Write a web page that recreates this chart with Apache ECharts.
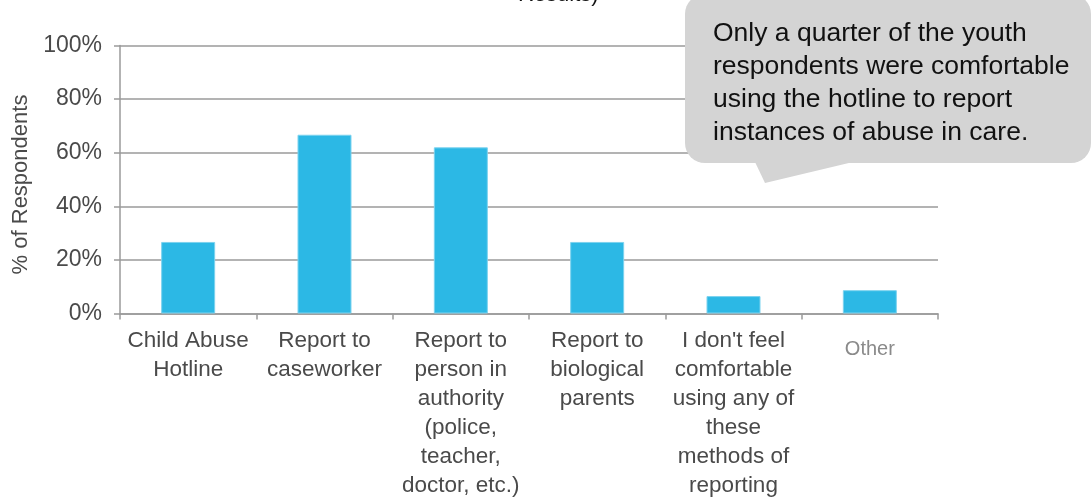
<!DOCTYPE html>
<html>
<head>
<meta charset="utf-8">
<script src="https://cdn.jsdelivr.net/npm/echarts@6/dist/echarts.min.js"></script>
<style>
  html, body { margin: 0; padding: 0; background: #fff; }
  #chart { width: 1092px; height: 502px; }
</style>
</head>
<body>
<div id="chart"></div>
<script>
// categories (x axis)
const categories = [
  'Child Abuse\nHotline',
  'Report to\ncaseworker',
  'Report to\nperson in\nauthority\n(police,\nteacher,\ndoctor, etc.)',
  'Report to\nbiological\nparents',
  "I don't feel\ncomfortable\nusing any of\nthese\nmethods of\nreporting",
  'Other'
];
// % of respondents
const respondents = [26.7, 66.7, 62.0, 26.7, 6.5, 8.7];

const calloutText = 'Only a quarter of the youth\nrespondents were comfortable\nusing the hotline to report\ninstances of abuse in care.';

const font = "'Liberation Sans', Arial, Helvetica, sans-serif";
const chart = echarts.init(document.getElementById('chart'));

chart.setOption({
  animation: false,
  textStyle: { fontFamily: font },
  grid: { left: 120, right: 154, top: 45.5, bottom: 188.5 },
  xAxis: {
    type: 'category',
    data: categories,
    axisLine: { lineStyle: { color: '#9a9a9a', width: 1.5 } },
    axisTick: { show: true, length: 6, lineStyle: { color: '#9a9a9a', width: 1.5 } },
    axisLabel: {
      interval: 0,
      margin: 13,
      color: '#4a4a4a',
      fontSize: 22.5,
      lineHeight: 29,
      fontFamily: font,
      formatter: function (v) {
        return v === 'Other' ? '{o|' + v + '}' : v;
      },
      rich: {
        o: { color: '#8a8a8a', fontSize: 20, lineHeight: 29, padding: [17, 0, 0, 0], fontFamily: font }
      }
    }
  },
  yAxis: {
    type: 'value',
    min: 0,
    max: 100,
    interval: 20,
    name: '% of Respondents',
    nameLocation: 'middle',
    nameRotate: 90,
    nameGap: 86,
    nameTextStyle: { color: '#4a4a4a', fontSize: 22, fontFamily: font, padding: [0, 10, 0, 0] },
    axisLine: { show: true, lineStyle: { color: '#9a9a9a', width: 1.5 } },
    axisTick: { show: true, length: 6, lineStyle: { color: '#9a9a9a', width: 1.5 } },
    axisLabel: { formatter: '{value}%', color: '#4a4a4a', fontSize: 23, margin: 18, fontFamily: font },
    splitLine: { lineStyle: { color: '#9a9a9a', width: 1.5 } }
  },
  series: [{
    type: 'bar',
    data: respondents,
    barWidth: 54,
    itemStyle: { color: '#2cb8e5', borderColor: '#7dd3ef', borderWidth: 1 }
  }],
  graphic: [
    {
      type: 'text',
      left: 518,
      top: -16,
      z: 100,
      style: { text: 'Results)', fill: '#111', font: "22px " + font }
    },
    {
      type: 'group',
      left: 685,
      top: -6,
      z: 100,
      children: [
        {
          type: 'rect',
          z: 100,
          shape: { x: 0, y: 0, width: 406, height: 169, r: 20 },
          style: { fill: '#d4d4d4' }
        },
        {
          type: 'polygon',
          z: 100,
          shape: { points: [[70, 168], [80, 189], [168, 168]] },
          style: { fill: '#d4d4d4' }
        },
        {
          type: 'text',
          z: 101,
          x: 28,
          y: 23,
          style: { text: calloutText, fill: '#111', font: "26.5px " + font, lineHeight: 33 }
        }
      ]
    }
  ]
});
</script>
</body>
</html>
